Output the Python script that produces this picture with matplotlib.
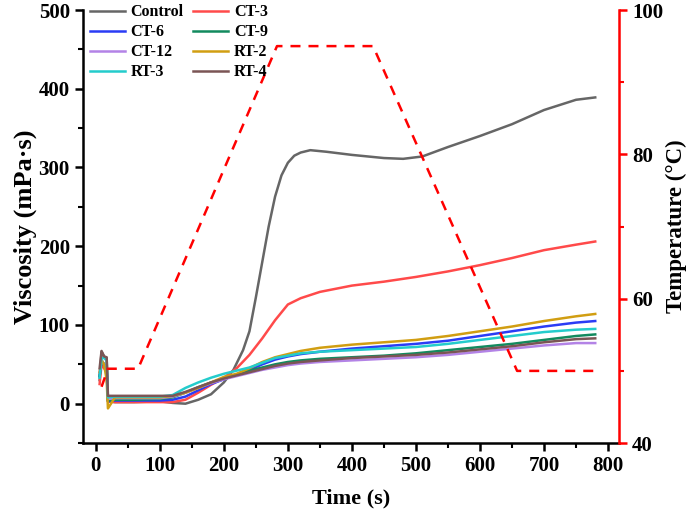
import matplotlib.pyplot as plt
from matplotlib.ticker import MultipleLocator

plt.rcParams['font.family'] = ['Liberation Serif', 'DejaVu Serif']
plt.rcParams['font.weight'] = 'bold'

# viscosity curves (time in s, viscosity in mPa·s)
time = [6, 9, 13, 17, 19, 30, 60, 100, 120, 140, 160, 180, 200, 220, 240, 260,
        280, 300, 320, 350, 400, 450, 500, 550, 600, 650, 700, 750, 780]
ct3 = [25, 50, 45, 40, 3, 2, 2, 2, 2, 5, 14, 24, 33, 45, 62, 83,
       106, 126, 134, 142, 150, 155, 161, 168, 176, 185, 195, 202, 206]
ct6 = [35, 55, 50, 45, 3, 4, 4, 4, 5, 9, 17, 25, 31, 37, 43, 50,
       56, 60, 63, 66, 70, 73, 76, 80, 86, 92, 98, 103, 105]
ct9 = [35, 55, 50, 45, 4, 5, 5, 6, 8, 14, 21, 27, 32, 37, 42, 46,
       50, 53, 55, 57, 59, 61, 64, 68, 72, 76, 81, 86, 88]
ct12 = [40, 55, 50, 45, 6, 7, 7, 7, 9, 14, 20, 26, 31, 35, 39, 43,
        46, 49, 51, 53, 55, 57, 59, 62, 66, 70, 74, 77, 77]
rt2 = [40, 55, 50, 30, -6, 8, 8, 8, 10, 14, 20, 27, 34, 38, 45, 53,
       59, 63, 67, 71, 75, 78, 81, 86, 92, 98, 105, 111, 114]
rt3 = [33, 58, 58, 55, 8, 9, 9, 9, 11, 20, 27, 33, 38, 42, 46, 52,
       58, 61, 64, 66, 68, 70, 72, 76, 81, 86, 91, 94, 95]
rt4 = [45, 67, 60, 59, 10, 10, 10, 10, 10, 15, 21, 27, 32, 36, 40, 44,
       48, 51, 53, 55, 58, 60, 62, 65, 69, 73, 78, 82, 83]

# control has a sharper rise, so it gets its own time points
control_time = [6, 9, 13, 17, 19, 30, 60, 100, 120, 140, 160, 180, 200, 215,
                230, 240, 250, 260, 270, 280, 290, 300, 310, 320, 335, 360,
                400, 450, 480, 510, 550, 600, 650, 700, 750, 780]
control = [30, 66, 60, 58, 3, 2, 2, 3, 1, 0, 5, 12, 27, 43,
           68, 92, 135, 180, 225, 263, 290, 306, 315, 319, 322, 320,
           316, 312, 311, 314, 326, 340, 355, 373, 386, 389]

# temperature program
temp_time = [9, 19, 66, 283, 433, 658, 778]
temp = [47.8, 50.3, 50.3, 95, 95, 50, 50]

series = [
    ('Control', control_time, control, '#666666'),
    ('CT-3', time, ct3, '#ff4a4a'),
    ('CT-6', time, ct6, '#2a3cf5'),
    ('CT-9', time, ct9, '#138a5e'),
    ('CT-12', time, ct12, '#b383e6'),
    ('RT-2', time, rt2, '#d19e12'),
    ('RT-3', time, rt3, '#24cccc'),
    ('RT-4', time, rt4, '#7b5555'),
]

fig = plt.figure(figsize=(6.88, 5.14), dpi=100)
ax = fig.add_axes([0.1206, 0.138, 0.779, 0.8425])

lines = {}
for name, t, vals, color in series:
    lines[name], = ax.plot(t, vals, color=color, lw=1.8, label=name)

ax.set_xlim(-20, 817)
ax.set_ylim(-50, 500)
ax.xaxis.set_major_locator(MultipleLocator(100))
ax.xaxis.set_minor_locator(MultipleLocator(50))
ax.yaxis.set_major_locator(MultipleLocator(100))
ax.yaxis.set_minor_locator(MultipleLocator(50))
ax.tick_params(which='major', direction='out', length=6, width=1.8, labelsize=15)
ax.tick_params(which='minor', direction='out', length=3.5, width=1.5)
for s in ('left', 'bottom'):
    ax.spines[s].set_linewidth(1.8)
ax.spines['top'].set_visible(False)
ax.spines['right'].set_visible(False)
ax.set_xlabel('Time (s)', fontsize=16, fontweight='bold', labelpad=9)
ax.set_ylabel('Viscosity (mPa·s)', fontsize=19, fontweight='bold', labelpad=1)

ax2 = ax.twinx()
ax2.plot(temp_time, temp, color='#ff0000', lw=1.8, ls=(0, (4, 3.2)))
ax2.set_ylim(40, 100)
ax2.yaxis.set_major_locator(MultipleLocator(20))
ax2.yaxis.set_minor_locator(MultipleLocator(10))
ax2.tick_params(which='major', direction='out', length=6, width=1.8, color='red', labelsize=15)
ax2.tick_params(which='minor', direction='out', length=3.5, width=1.5, color='red')
ax2.spines['right'].set_color('red')
ax2.spines['right'].set_linewidth(1.8)
for s in ('left', 'top', 'bottom'):
    ax2.spines[s].set_visible(False)
ax2.set_ylabel('Temperature (°C)', fontsize=16.5, fontweight='bold', labelpad=2)

order = ['Control', 'CT-6', 'CT-12', 'RT-3', 'CT-3', 'CT-9', 'RT-2', 'RT-4']
ax2.legend([lines[n] for n in order], order, ncol=2, loc='upper left',
           bbox_to_anchor=(-0.005, 1.035), frameon=False, fontsize=11.5,
           handlelength=2.2, handletextpad=0.35, columnspacing=0.6,
           labelspacing=0.25, borderaxespad=0.2)

fig.savefig('out.png', dpi=100)
